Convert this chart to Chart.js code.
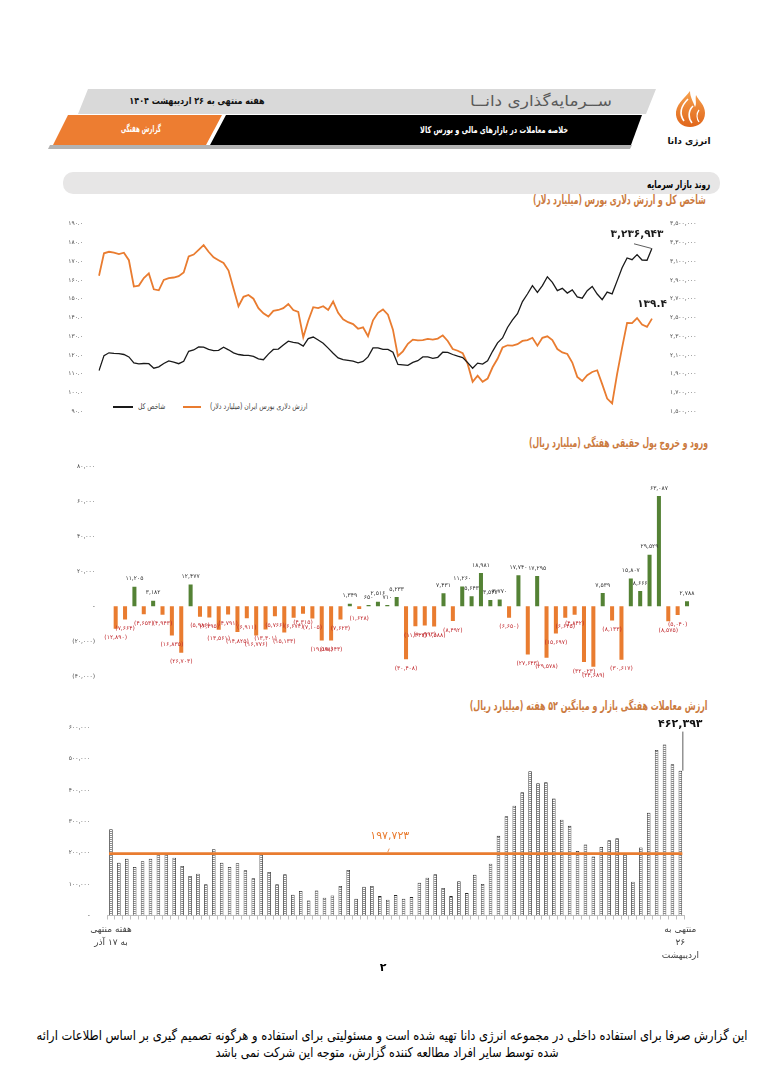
<!DOCTYPE html>
<html><head><meta charset="utf-8">
<script src="https://cdn.jsdelivr.net/npm/chart.js@4.4.1/dist/chart.umd.min.js"></script>
<style>
body{margin:0;background:#fff;}
#page{position:relative;width:764px;height:1080px;overflow:hidden;font-family:"DejaVu Sans",sans-serif;background:#fff;}
.t{position:absolute;white-space:nowrap;direction:rtl;line-height:1;}
.c{transform:translate(-50%,-50%);}
.r{transform:translateY(-50%);transform-origin:right center;}
.l{transform:translateY(-50%);transform-origin:left center;}
canvas{position:absolute;}
</style></head><body><div id="page">
<svg width="764" height="200" style="position:absolute;left:0;top:0">
  <polygon points="88,89 656,89 646,114 78,114" fill="#d9d9d9"/>
  <polygon points="50,145 632,145 630,149 48,149" fill="#b3b3b3"/>
  <polygon points="226,115 642,115 631,145 210,145" fill="#000"/>
  <polygon points="68,115 222,115 206,145 53,145" fill="#ed7d31"/>
  <defs><linearGradient id="fl" x1="0" y1="0" x2="0" y2="1"><stop offset="0" stop-color="#f6a04d"/><stop offset="1" stop-color="#e0661b"/></linearGradient></defs>
  <path d="M690,91 C684,99 675,105 676,115 C677,123 683,127 690,127 C698,127 705,122 705,113 C705,105 699,101 696,95 C695,100 697,104 695,107 C693,101 690,97 690,91 Z" fill="url(#fl)"/>
  <path d="M688,99 C681,106 679,114 684,121" stroke="#fff" stroke-width="1.6" fill="none"/>
  <path d="M693,106 C688,111 688,118 692,123" stroke="#fff" stroke-width="1.6" fill="none"/>
  <path d="M699,110 C696,114 697,119 699,122" stroke="#fff" stroke-width="1.3" fill="none"/>
  <rect x="63" y="172" width="657" height="22" rx="10" fill="#e7e6e6"/>
</svg>
<div class="t c fit" data-w="135" style="left:197px;top:101px;font-size:9.5px;font-weight:bold;color:#111">هفته منتهی به ۲۶ اردیبهشت ۱۴۰۴</div>
<div class="t c fit" data-w="142" style="left:541px;top:101px;font-size:15px;color:#595959">ســرمایه‌گذاری دانــا</div>
<div class="t c fit" data-w="148" style="left:494px;top:130px;font-size:9.5px;font-weight:bold;color:#fff">خلاصه معاملات در بازارهای مالی و بورس کالا</div>
<div class="t c fit" data-w="40" style="left:141px;top:129px;font-size:9.5px;font-weight:bold;color:#fff">گزارش هفتگی</div>
<div class="t c" style="left:689px;top:141px;font-size:9px;font-weight:bold;color:#111">انرژی دانا</div>
<div class="t r fit" data-w="63" style="right:54px;top:184px;font-size:10.5px;font-weight:bold;color:#000">روند بازار سرمایه</div>
<div class="t r fit" data-w="173" style="right:58px;top:200px;font-size:12.5px;font-weight:bold;color:#cb7a3e">شاخص کل و ارزش دلاری بورس (میلیارد دلار)</div>
<div class="t r fit" data-w="179" style="right:56px;top:443px;font-size:12.5px;font-weight:bold;color:#cb7a3e">ورود و خروج پول حقیقی هفتگی (میلیارد ریال)</div>
<div class="t r fit" data-w="238" style="right:56px;top:706px;font-size:12.5px;font-weight:bold;color:#cb7a3e">ارزش معاملات هفتگی بازار و میانگین ۵۲ هفته (میلیارد ریال)</div>

<div style="position:absolute;left:113px;top:406px;width:20px;height:2px;background:#1a1a1a"></div>
<div class="t l fit" data-w="27" style="left:138px;top:407px;font-size:8px;color:#404040">شاخص کل</div>
<div style="position:absolute;left:183px;top:406px;width:18px;height:2px;background:#e97c30"></div>
<div class="t l fit" data-w="97" style="left:210px;top:407px;font-size:8px;color:#404040">ارزش دلاری بورس ایران (میلیارد دلار)</div>

<canvas id="c1" width="640" height="215" style="left:60px;top:210px;width:640px;height:215px"></canvas>
<canvas id="c2" width="650" height="240" style="left:60px;top:455px;width:650px;height:240px"></canvas>
<canvas id="c3" width="650" height="260" style="left:60px;top:715px;width:650px;height:260px"></canvas>

<div class="t c" style="left:383px;top:967px;font-size:11px;font-weight:bold;color:#000">۲</div>
<div class="t c fit" data-w="711" style="left:392px;top:1036px;font-size:13.5px;color:#000">این گزارش صرفا برای استفاده داخلی در مجموعه انرژی دانا تهیه شده است  و مسئولیتی برای استفاده و هرگونه تصمیم گیری بر اساس اطلاعات ارائه</div>
<div class="t c fit" data-w="343" style="left:387px;top:1053px;font-size:13.5px;color:#000">شده توسط سایر افراد مطالعه کننده گزارش، متوجه این شرکت نمی باشد</div>
</div>
<script>
// ---------- DATA ----------
// Chart 1: dollar value of Iran bourse (billion USD) and TEDPIX index, sampled sessions
const dollarValue = [162.2,174.2,175,174.5,173.8,174.5,170.5,156.5,157,161,163.5,155,154.5,160,161,161.3,162,164,172.5,173.5,176,178.5,175,172,170.5,169,165,155.5,146,151,152,150,145,142.2,140.5,143.5,144,145,147.2,144,143,129.5,138.3,145.5,145,146,144,148.5,142.5,139,137.5,136.5,134,134.8,130,138.5,142.5,144.3,141.5,133.5,119.5,
122,126,128.2,127.8,128,128.6,128.2,128.8,130.5,127.5,123.2,122.3,121,115.3,105.8,109,105.8,107.5,113.5,118,124,125.2,125,125.8,127.5,128,129.2,125,129.2,130,128,123.2,121.4,120.6,116,108.4,106.2,109.3,111,111.9,104.5,96.8,94.2,110,124,137.1,137,139.7,136.2,135,139.4];
const indexValues = [1934000,2094000,2124000,2118000,2116000,2106000,2080000,2016000,2006000,2010000,2008000,1960000,1974000,2010000,2038000,2024000,2008000,2034000,2140000,2154000,2186000,2184000,2160000,2148000,2150000,2184000,2156000,2124000,2106000,2098000,2096000,2086000,2060000,2050000,2110000,2160000,2164000,2206000,2248000,2236000,2226000,2196000,2276000,2292000,2260000,2226000,2174000,2120000,2070000,2052000,2044000,2036000,2018000,2032000,2080000,2176000,2176000,2160000,2160000,2130000,2000000,
1996000,1990000,2022000,2040000,2080000,2080000,2064000,2076000,2130000,2128000,2106000,2088000,2074000,2020000,1960000,2014000,2004000,2040000,2140000,2230000,2282000,2394000,2474000,2540000,2670000,2750000,2840000,2768000,2840000,2934000,2874000,2786000,2810000,2760000,2794000,2720000,2706000,2786000,2830000,2750000,2690000,2770000,2752000,2890000,3030000,3134000,3116000,3170000,3112000,3110000,3236943];
const sessions = dollarValue.map((_, i) => i + 1);
const leftTicks = {min: 90, max: 190, step: 10};
const rightTicks = {min: 1500000, max: 3500000, step: 200000};

// Chart 2: weekly net real money flow (billion rial)
const weeklyFlow = [-12890,-7664,11205,-4653,3182,-4943,-16835,-26703,12477,-5986,-6495,-13561,-4791,-14825,-6911,-16776,-13301,-5766,-15133,-6674,-4315,-7105,-19588,-19643,-7623,1349,-1628,650,2516,710,5233,
-30408,-11443,-10993,-11588,7431,-8492,11260,5643,18981,3543,3770,-6650,17740,-27643,17295,-29578,-15697,-6645,-4842,-32023,-34689,7539,-8133,-30617,15807,8666,29529,63087,-8575,-5040,2788];
const flowWeeks = weeklyFlow.map((_, i) => i + 1);
const flowTicks = {min: -40000, max: 80000, step: 20000};

// Chart 3: weekly trading value (billion rial) and 52-week average
const weeklyValue = [275600,168800,181600,154900,173100,181600,196000,196000,184800,158100,126100,133500,99400,211500,168800,154900,166700,144200,118600,196000,138900,99400,131400,66200,78000,48100,80100,56600,64100,94000,145300,53400,91900,94000,62000,50200,
65200,53400,58800,104700,120700,131400,87600,62000,109000,71600,130300,100400,165600,254300,317300,350400,393200,460500,422000,425200,374000,305600,286300,206200,226500,188000,219000,240400,246800,195500,107900,216900,328000,528800,546000,482900,462393];
const avg52 = 197723;
const firstWeekLabel = ['هفته منتهی', 'به ۱۷ آذر'];
const lastWeekLabel = ['منتهی به', '۲۶', 'اردیبهشت'];
const valueTicks = {min: 0, max: 600000, step: 100000};

// ---------- TEXT FITTING ----------
document.querySelectorAll('.fit').forEach(el => {
  const s = (+el.dataset.w) / el.offsetWidth;
  const base = el.classList.contains('c') ? 'translate(-50%,-50%)' : 'translateY(-50%)';
  el.style.transform = base + ' scaleX(' + s.toFixed(3) + ')';
});

// ---------- HELPERS ----------
const ORANGE = '#e97c30', GREEN = '#548235', RED = '#c0282d';
const fa = s => String(s).replace(/\d/g, d => '۰۱۲۳۴۵۶۷۸۹'[d]);
const fmt = n => fa(Math.round(Math.abs(n)).toLocaleString('en-US'));
const FONT = '"DejaVu Sans", sans-serif';
Chart.defaults.font.family = FONT;
const tickFont = {size: 6, family: FONT};
const TICK = '#4d4d4d';

// ---------- CHART 1 ----------
const endLabels = {
  id: 'endLabels',
  afterDatasetsDraw(chart) {
    const ctx = chart.ctx;
    const mb = chart.getDatasetMeta(0).data, mo = chart.getDatasetMeta(1).data;
    const pb = mb[mb.length - 1], po = mo[mo.length - 1];
    ctx.save();
    ctx.fillStyle = '#1a1a1a'; ctx.textAlign = 'center'; ctx.textBaseline = 'middle';
    ctx.font = 'bold 10.5px ' + FONT;
    ctx.fillText(fmt(indexValues[indexValues.length - 1]), pb.x - 15, pb.y - 14);
    ctx.strokeStyle = '#333'; ctx.lineWidth = 0.8;
    ctx.beginPath(); ctx.moveTo(pb.x - 18, pb.y - 4.5); ctx.lineTo(pb.x - 1, pb.y); ctx.stroke();
    ctx.fillText(fa(dollarValue[dollarValue.length - 1].toFixed(1)), po.x, po.y - 14);
    ctx.restore();
  }
};
new Chart(document.getElementById('c1'), {
  type: 'line',
  data: {labels: sessions, datasets: [
    {label: 'شاخص کل', data: indexValues, yAxisID: 'yR', borderColor: '#1a1a1a', borderWidth: 1.3, pointRadius: 0, tension: 0},
    {label: 'ارزش دلاری بورس ایران (میلیارد دلار)', data: dollarValue, yAxisID: 'yL', borderColor: ORANGE, borderWidth: 1.8, pointRadius: 0, tension: 0}
  ]},
  options: {
    responsive: false, animation: false, devicePixelRatio: 1,
    layout: {padding: {top: 11.7, bottom: 11.7, left: 0, right: 0}},
    plugins: {legend: {display: false}, tooltip: {enabled: false}},
    scales: {
      x: {display: false},
      yL: {position: 'left', min: leftTicks.min, max: leftTicks.max,
        ticks: {stepSize: leftTicks.step, callback: v => fa(v.toFixed(1)), font: tickFont, color: TICK, padding: 8},
        grid: {display: false}, border: {display: false}, afterFit: a => { a.width = 39; }},
      yR: {position: 'right', min: rightTicks.min, max: rightTicks.max,
        ticks: {stepSize: rightTicks.step, callback: v => fmt(v), font: tickFont, color: TICK, padding: 10},
        grid: {display: false}, border: {display: false}, afterFit: a => { a.width = 48; }}
    }
  },
  plugins: [endLabels]
});

// ---------- CHART 2 ----------
const flowLabels = {
  id: 'flowLabels',
  afterDatasetsDraw(chart) {
    const ctx = chart.ctx, meta = chart.getDatasetMeta(0);
    ctx.save();
    ctx.font = '6px ' + FONT; ctx.textAlign = 'center'; ctx.textBaseline = 'middle';
    meta.data.forEach((bar, i) => {
      const v = weeklyFlow[i];
      if (v >= 0) { ctx.fillStyle = '#333'; ctx.fillText(fmt(v), bar.x, bar.y - 8); }
      else { ctx.fillStyle = RED; ctx.fillText('(' + fmt(v) + ')', bar.x, bar.y + 9); }
    });
    ctx.restore();
  }
};
new Chart(document.getElementById('c2'), {
  type: 'bar',
  data: {labels: flowWeeks, datasets: [{data: weeklyFlow,
    backgroundColor: weeklyFlow.map(v => v >= 0 ? GREEN : ORANGE),
    categoryPercentage: 1, barPercentage: 0.43}]},
  options: {
    responsive: false, animation: false, devicePixelRatio: 1,
    layout: {padding: {top: 8.3, bottom: 19, left: 0, right: 18.3}},
    plugins: {legend: {display: false}, tooltip: {enabled: false}},
    scales: {
      x: {display: false},
      y: {min: flowTicks.min, max: flowTicks.max,
        ticks: {stepSize: flowTicks.step, callback: v => v === 0 ? '-' : (v < 0 ? '(' + fmt(v) + ')' : fmt(v)), font: tickFont, color: TICK, padding: 8},
        grid: {display: false}, border: {display: false}, afterFit: a => { a.width = 51; }}
    }
  },
  plugins: [flowLabels]
});

// ---------- CHART 3 ----------
const pc = document.createElement('canvas'); pc.width = 4; pc.height = 2;
const pctx = pc.getContext('2d');
pctx.fillStyle = '#fff'; pctx.fillRect(0, 0, 4, 2);
pctx.fillStyle = '#8c8c8c'; pctx.fillRect(0, 0, 4, 1);
const c3 = document.getElementById('c3');
const hatch = c3.getContext('2d').createPattern(pc, 'repeat');
const weekLabels = weeklyValue.map((_, i) => i === 0 ? firstWeekLabel : (i === weeklyValue.length - 1 ? lastWeekLabel : ''));
const avgLine = {
  id: 'avgLine',
  afterDatasetsDraw(chart) {
    const ctx = chart.ctx, {left, right, top} = chart.chartArea;
    const y = chart.scales.y.getPixelForValue(avg52);
    ctx.save();
    ctx.strokeStyle = ORANGE; ctx.lineWidth = 2.6;
    ctx.beginPath(); ctx.moveTo(left + 2, y); ctx.lineTo(right - 2, y); ctx.stroke();
    const lx = chart.scales.x.getPixelForValue(35);
    ctx.fillStyle = ORANGE; ctx.font = '11px ' + FONT; ctx.textAlign = 'center'; ctx.textBaseline = 'middle';
    ctx.fillText(fmt(avg52), lx + 2, y - 17);
    ctx.lineWidth = 0.8;
    ctx.beginPath(); ctx.moveTo(lx + 1.5, y - 5); ctx.lineTo(lx, y - 1.5); ctx.stroke();
    const meta = chart.getDatasetMeta(0), last = meta.data[meta.data.length - 1];
    ctx.strokeStyle = '#333'; ctx.lineWidth = 0.8;
    ctx.beginPath(); ctx.moveTo(last.x + 2.5, last.y); ctx.lineTo(last.x + 2.5, top + 4); ctx.stroke();
    ctx.fillStyle = '#111'; ctx.font = 'bold 11px ' + FONT;
    ctx.fillText(fmt(weeklyValue[weeklyValue.length - 1]), last.x, top - 3.5);
    ctx.restore();
  }
};
new Chart(c3, {
  type: 'bar',
  data: {labels: weekLabels, datasets: [{data: weeklyValue, backgroundColor: hatch, borderColor: '#262626', borderWidth: 0.8,
    categoryPercentage: 1, barPercentage: 0.45}]},
  options: {
    responsive: false, animation: false, devicePixelRatio: 1,
    layout: {padding: {top: 12.3, bottom: 0, left: 0, right: 25.7}},
    plugins: {legend: {display: false}, tooltip: {enabled: false}},
    scales: {
      x: {grid: {display: true, drawOnChartArea: false, drawTicks: true, tickLength: 4, color: '#bfbfbf', offset: true},
        border: {display: true, color: '#bfbfbf'},
        ticks: {autoSkip: false, maxRotation: 0, minRotation: 0, font: {size: 9, family: FONT, lineHeight: 1.45}, color: '#404040', padding: 4},
        afterFit: a => { a.height = 59.5; }},
      y: {min: valueTicks.min, max: valueTicks.max,
        ticks: {stepSize: valueTicks.step, callback: v => v === 0 ? '-' : fmt(v), font: tickFont, color: TICK, padding: 9},
        grid: {display: false}, border: {display: false}, afterFit: a => { a.width = 47; }}
    }
  },
  plugins: [avgLine]
});
</script>
</body></html>
